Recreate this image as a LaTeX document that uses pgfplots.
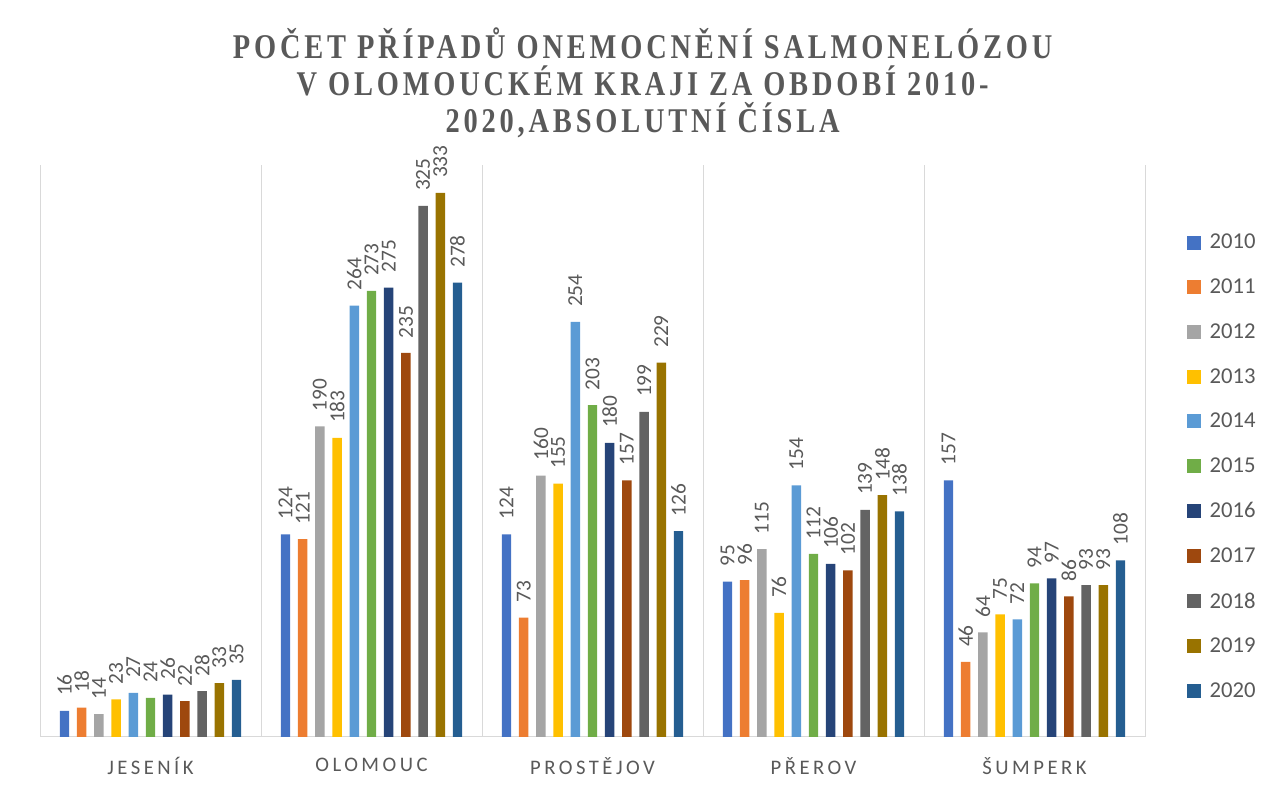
\documentclass[border=0pt]{standalone}
\usepackage{pgfplots}
\pgfplotsset{compat=1.18}
\usepackage{pgfplotstable}
\usepackage{fontspec}
\setmainfont{Carlito}
\newfontfamily\titlefont{Liberation Serif}[LetterSpace=11,FakeStretch=0.82]
\newfontfamily\catfont{Carlito}[LetterSpace=17]
\definecolor{txt}{HTML}{595959}
\definecolor{gridc}{HTML}{D9D9D9}
\definecolor{c0}{HTML}{4472C4}
\definecolor{c1}{HTML}{ED7D31}
\definecolor{c2}{HTML}{A5A5A5}
\definecolor{c3}{HTML}{FFC000}
\definecolor{c4}{HTML}{5B9BD5}
\definecolor{c5}{HTML}{70AD47}
\definecolor{c6}{HTML}{264478}
\definecolor{c7}{HTML}{9E480E}
\definecolor{c8}{HTML}{636363}
\definecolor{c9}{HTML}{997300}
\definecolor{c10}{HTML}{255E91}
\pgfplotstableread{
x y2010 y2011 y2012 y2013 y2014 y2015 y2016 y2017 y2018 y2019 y2020
0 16 18 14 23 27 24 26 22 28 33 35
1 124 121 190 183 264 273 275 235 325 333 278
2 124 73 160 155 254 203 180 157 199 229 126
3 95 96 115 76 154 112 106 102 139 148 138
4 157 46 64 75 72 94 97 86 93 93 108
}\data
\begin{document}
\begin{tikzpicture}
\path[use as bounding box] (-30pt,-37.5pt) rectangle (922.5pt,552.75pt);
\node[align=center, font=\titlefont\bfseries\fontsize{26}{27.75}\selectfont, text=txt] at (452pt,490.5pt)
 {POČET PŘÍPADŮ ONEMOCNĚNÍ SALMONELÓZOU\\V OLOMOUCKÉM KRAJI ZA OBDOBÍ 2010-\\2020,ABSOLUTNÍ ČÍSLA};
\begin{axis}[
 at={(0,0)}, anchor=south west, scale only axis,
 width=828.75pt, height=429pt,
 ymin=0, ymax=350, xmin=-0.5, xmax=4.5,
 ybar=5.8pt, bar width=7.1pt,
 axis y line=none, axis x line*=bottom,
 x axis line style={draw=gridc, line width=0.75pt, -},
 xtick={0,1,2,3,4},
 xticklabels={JESENÍK,OLOMOUC,PROSTĚJOV,PŘEROV,ŠUMPERK},
 xticklabel style={font=\catfont\fontsize{15.5}{18}\selectfont, text=txt, yshift=-12pt},
 major tick length=0pt, minor tick length=0pt,
 minor xtick={-0.5,0.5,1.5,2.5,3.5,4.5},
 xminorgrids, minor grid style={draw=gridc, line width=0.75pt},
 /pgf/number format/assume math mode=true,
 nodes near coords,
 every node near coord/.append style={rotate=90, anchor=west, inner xsep=11pt, inner ysep=0pt,
   font=\fontsize{16}{19}\selectfont, text=txt},
 legend style={at={(1.038,0.884)}, anchor=north west, draw=none, fill=none, inner sep=0pt,
   font=\fontsize{17}{20}\selectfont, text=txt, row sep=17pt,
   /tikz/every odd column/.style={column sep=4.3pt}},
 legend cell align=left,
 legend image code/.code={\fill[#1] (0pt,-5.25pt) rectangle (10.5pt,5.25pt);},
]
\addplot[fill=c0, draw=none] table[x=x, y=y2010] {\data};
\addplot[fill=c1, draw=none] table[x=x, y=y2011] {\data};
\addplot[fill=c2, draw=none] table[x=x, y=y2012] {\data};
\addplot[fill=c3, draw=none] table[x=x, y=y2013] {\data};
\addplot[fill=c4, draw=none] table[x=x, y=y2014] {\data};
\addplot[fill=c5, draw=none] table[x=x, y=y2015] {\data};
\addplot[fill=c6, draw=none] table[x=x, y=y2016] {\data};
\addplot[fill=c7, draw=none] table[x=x, y=y2017] {\data};
\addplot[fill=c8, draw=none] table[x=x, y=y2018] {\data};
\addplot[fill=c9, draw=none] table[x=x, y=y2019] {\data};
\addplot[fill=c10, draw=none] table[x=x, y=y2020] {\data};
\legend{2010,2011,2012,2013,2014,2015,2016,2017,2018,2019,2020}
\end{axis}
\end{tikzpicture}
\end{document}
